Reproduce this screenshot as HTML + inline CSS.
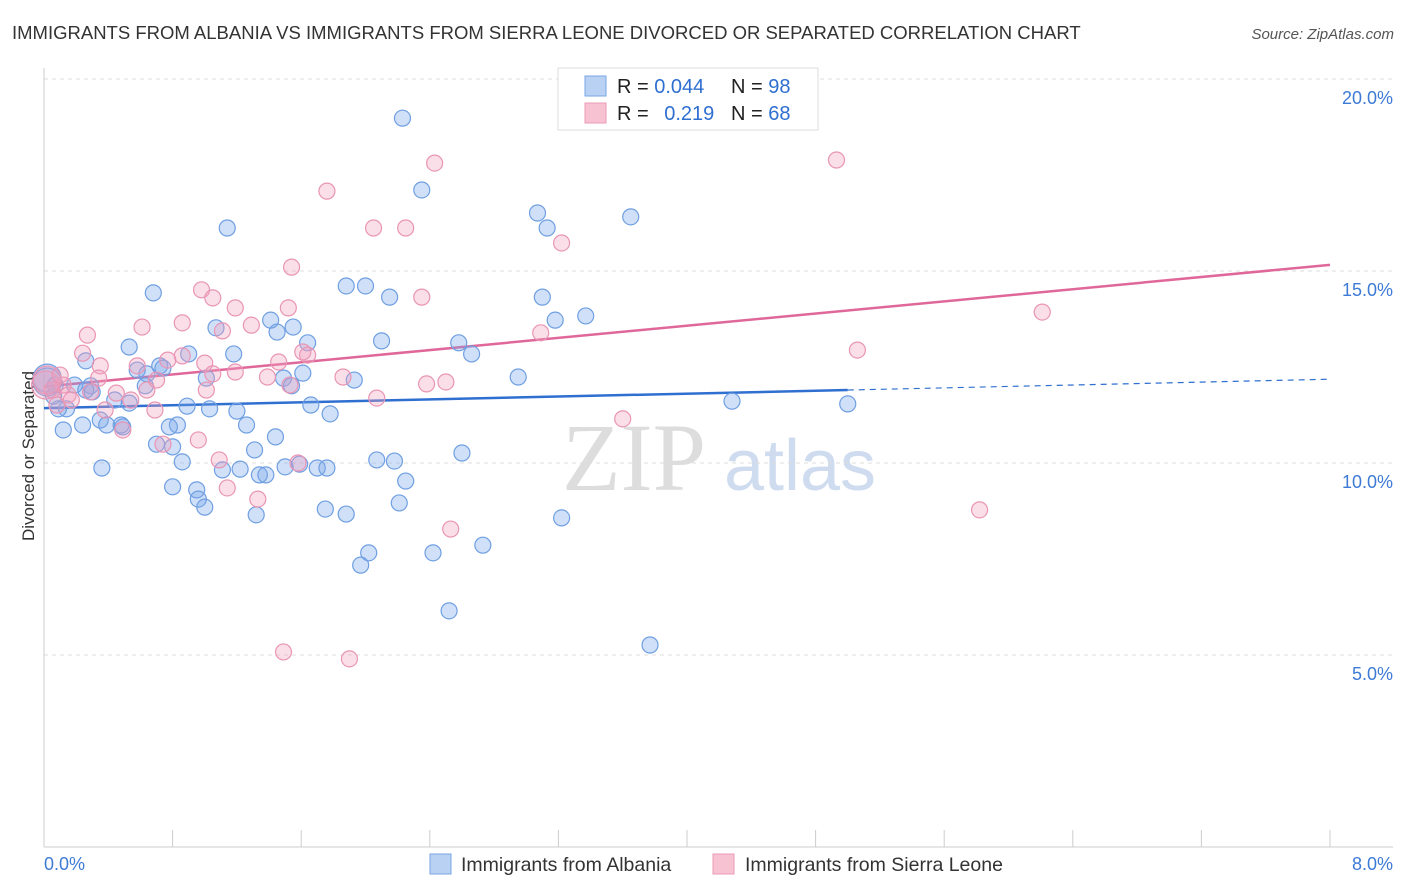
<!DOCTYPE html>
<html><head><meta charset="utf-8"><style>
body{margin:0;background:#fff;font-family:"Liberation Sans",sans-serif;}
svg{display:block}
</style></head><body>
<svg id="chart" width="1406" height="892">
<text x="12" y="39" font-size="18.5" fill="#333">IMMIGRANTS FROM ALBANIA VS IMMIGRANTS FROM SIERRA LEONE DIVORCED OR SEPARATED CORRELATION CHART</text>
<text x="1394" y="39" font-size="15" fill="#555" font-style="italic" text-anchor="end">Source: ZipAtlas.com</text>
<text x="0" y="0" transform="translate(34,456) rotate(-90)" font-size="17" fill="#333" text-anchor="middle">Divorced or Separated</text>
<g><text x="634" y="490" font-size="96" font-family="Liberation Serif,serif" fill="#ddd" text-anchor="middle">ZIP</text><text x="800" y="490" font-size="72" fill="#cfdcef" text-anchor="middle">atlas</text></g>
<g id="grid"></g><g id="axes"></g><g id="lines"></g><g id="pts"></g>
<g>
<rect x="558" y="68" width="260" height="62" fill="#fff" stroke="#ddd"/>
<rect x="585" y="76" width="21" height="20" fill="#b9d2f4" stroke="#7aa6e6"/>
<rect x="585" y="103" width="21" height="20" fill="#f7c3d3" stroke="#eb9ab6"/>
<text x="617" y="93" font-size="20" fill="#222">R = <tspan fill="#2f6fd0">0.044</tspan></text>
<text x="731" y="93" font-size="20" fill="#222">N = <tspan fill="#2f6fd0">98</tspan></text>
<text x="617" y="120" font-size="20" fill="#222">R = <tspan fill="#2f6fd0" dx="10">0.219</tspan></text>
<text x="731" y="120" font-size="20" fill="#222">N = <tspan fill="#2f6fd0">68</tspan></text>
</g>
<g>
<rect x="430" y="854" width="21" height="20" fill="#b9d2f4" stroke="#7aa6e6"/>
<text x="461" y="871" font-size="19.5" fill="#333">Immigrants from Albania</text>
<rect x="713" y="854" width="21" height="20" fill="#f7c3d3" stroke="#eb9ab6"/>
<text x="745" y="871" font-size="19.5" fill="#333">Immigrants from Sierra Leone</text>
</g>
<text x="44" y="870" font-size="18" fill="#3d7bd6">0.0%</text>
<text x="1393" y="870" font-size="18" fill="#3d7bd6" text-anchor="end">8.0%</text>
</svg>
<script>
const yTicks=[5,10,15,20];
const yTickLabels=["5.0%","10.0%","15.0%","20.0%"];
const xTicks=[0,0.8,1.6,2.4,3.2,4,4.8,5.6,6.4,7.2,8];
const blueX=[2.23,2.35,3.07,3.13,3.65,1.14,0.68,1.88,2.00,2.15,3.10,3.37,3.18,1.07,1.45,1.55,1.41,1.64,2.10,2.58,2.66,1.18,0.90,0.53,0.26,0.72,0.58,0.64,0.74,1.01,1.61,1.49,1.54,1.93,2.95,0.02,0.07,0.19,0.29,0.30,0.44,0.53,0.63,0.89,1.03,1.20,1.66,1.78,0.14,0.09,0.35,0.24,0.12,0.39,0.49,0.83,0.78,0.70,1.26,1.44,1.31,4.28,5.00,0.36,0.86,1.11,1.22,1.34,1.38,1.50,1.59,1.70,1.76,2.07,2.18,2.25,2.60,0.80,0.95,0.96,1.00,1.32,1.75,1.88,2.21,3.22,2.73,2.02,1.97,2.42,2.52,3.77,0.48,0.80,0.06,0.26,0.02];
const blueY=[18.98,17.11,16.51,16.12,16.41,16.12,14.43,14.61,14.61,14.32,14.32,13.83,13.72,13.52,13.41,13.54,13.72,13.13,13.18,13.13,12.84,12.84,12.84,13.02,12.66,12.53,12.42,12.32,12.47,12.21,12.34,12.21,12.01,12.16,12.24,12.21,12.03,12.03,12.01,11.85,11.64,11.56,12.01,11.48,11.41,11.35,11.51,11.28,11.41,11.41,11.12,10.99,10.86,10.99,10.94,10.99,10.94,10.49,10.99,10.68,10.34,11.61,11.54,9.87,10.03,9.82,9.84,9.69,9.69,9.90,9.97,9.87,9.87,10.08,10.05,9.53,10.26,9.38,9.30,9.06,8.85,8.65,8.80,8.67,8.96,8.57,7.86,7.66,7.34,7.66,6.15,5.26,10.99,10.42,11.74,11.90,12.11];
const pinkX=[2.43,4.93,1.76,2.05,2.25,3.22,1.54,0.98,1.05,2.35,1.19,1.52,0.86,0.61,1.29,1.11,0.27,3.09,6.21,5.06,1.64,1.46,0.86,1.00,0.77,0.24,0.35,0.58,1.19,1.39,1.05,1.86,0.70,0.34,0.12,0.01,0.05,0.15,0.45,0.64,1.01,2.38,2.50,2.07,0.54,0.69,0.38,0.96,0.74,0.49,1.58,1.09,1.14,1.33,2.53,5.82,3.60,1.49,1.90,0.02,0.08,0.29,0.17,1.61,0.10,1.53];
const pinkY=[17.81,17.89,17.08,16.12,16.12,15.73,15.10,14.51,14.30,14.32,14.04,14.04,13.65,13.54,13.59,13.44,13.33,13.39,13.93,12.94,12.81,12.63,12.79,12.60,12.68,12.86,12.53,12.53,12.37,12.24,12.32,12.24,12.16,12.21,12.03,12.03,11.90,11.77,11.82,11.90,11.90,12.06,12.11,11.69,11.64,11.38,11.38,10.60,10.49,10.86,10.00,10.08,9.35,9.06,8.28,8.78,11.15,5.08,4.90,12.16,11.51,11.85,11.64,12.89,12.29,12.03];
const blueTrend=[11.43,11.9];
const pinkTrend=[11.99,15.16];
const NS='http://www.w3.org/2000/svg';
const X=v=>44+v*160.75, Y=v=>847-v*38.4;
function mk(tag,attrs,parent){const e=document.createElementNS(NS,tag);for(const k in attrs)e.setAttribute(k,attrs[k]);document.getElementById(parent).appendChild(e);return e;}
yTicks.forEach((t,i)=>{
 const g=mk('line',{x1:44,x2:1393,y1:Y(t),y2:Y(t),stroke:'#ddd','stroke-dasharray':'4,4'},'grid');
 
 
 const l=mk('text',{x:1393,y:Y(t)+25,'font-size':18,fill:'#3d7bd6','text-anchor':'end'},'grid');
 l.textContent=yTickLabels[i];
 
 
});
const topLine=mk('line',{x1:44,x2:1393,y1:79,y2:79,stroke:'#ddd','stroke-dasharray':'4,4'},'grid');


const ya=mk('line',{x1:44,x2:44,y1:68,y2:847,stroke:'#ccc'},'axes');


const xa=mk('line',{x1:44,x2:1393,y1:847,y2:847,stroke:'#ccc'},'axes');


xTicks.forEach(t=>{
 const k=mk('line',{x1:X(t),x2:X(t),y1:830,y2:847,stroke:'#ccc'},'axes');
 
 
});
function pts(xs,ys,fill,stroke,name){xs.forEach((x,i)=>{
 const c=mk('circle',{cx:X(x),cy:Y(ys[i]),r:(x<0.03?14:8),fill:fill,stroke:stroke,'stroke-width':1.2},'pts');
 
 
});}
pts(blueX,blueY,'rgba(120,165,235,0.35)','#6f9fe2','point-albania');
pts(pinkX,pinkY,'rgba(242,160,190,0.35)','#e995b4','point-sierra-leone');
const bl=mk('line',{x1:X(0),y1:Y(blueTrend[0]),x2:X(5),y2:Y(blueTrend[1]),stroke:'#2f6fd0','stroke-width':2.5},'lines');


const slope=(blueTrend[1]-blueTrend[0])/5;
const bd=mk('line',{x1:X(5),y1:Y(blueTrend[1]),x2:X(8),y2:Y(blueTrend[0]+slope*8),stroke:'#2f6fd0','stroke-width':1.2,'stroke-dasharray':'6,5'},'lines');


const pl=mk('line',{x1:X(0),y1:Y(pinkTrend[0]),x2:X(8),y2:Y(pinkTrend[1]),stroke:'#e0679a','stroke-width':2.5},'lines');


</script>
</body></html>
